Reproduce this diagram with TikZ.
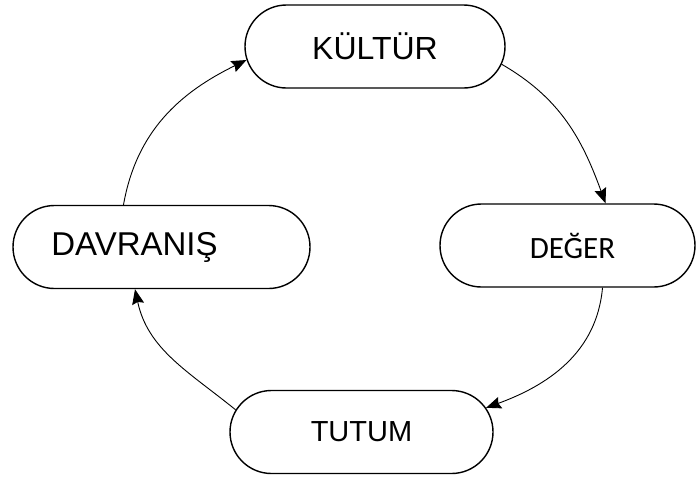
\documentclass[tikz,border=0pt]{standalone}
\usepackage{fontspec}
\setmainfont{Liberation Sans}
\newfontfamily\calibri{Carlito}
\usetikzlibrary{shapes.misc,arrows.meta}
\begin{document}
\begin{tikzpicture}[x=1pt,y=1pt,
  pill/.style={rounded rectangle, draw=black, line width=1.4pt, inner sep=0pt, minimum height=83pt},
  conn/.style={line width=0.9pt, -{Stealth[length=15pt,width=12pt,inset=2pt]}}]
\useasboundingbox (0,0) rectangle (696,-477);
\node[pill, minimum width=260pt] (kul) at (375,-46.5) {\fontsize{32}{36}\selectfont KÜLTÜR};
\node[pill, minimum width=255pt] (deg) at (567.5,-245.5) {\calibri\fontsize{31}{36}\selectfont\kern10pt DEĞER};
\node[pill, minimum width=297pt] (dav) at (161.5,-247) {\fontsize{33}{36}\selectfont DAVRANIŞ\kern54pt\relax};
\node[pill, minimum width=263pt] (tut) at (361.5,-432) {\fontsize{29}{34}\selectfont TUTUM};
\draw[conn] ([xshift=-38pt]dav.north) to[out=80,in=206] (kul.186);
\draw[conn] (kul.-8) to[out=-30,in=110] ([xshift=38pt]deg.north);
\draw[conn] ([xshift=35pt]deg.south) to[out=-95,in=20] (tut.11);
\draw[conn] (tut.170) to[out=141,in=-78] ([xshift=-26.5pt]dav.south);
\end{tikzpicture}
\end{document}
